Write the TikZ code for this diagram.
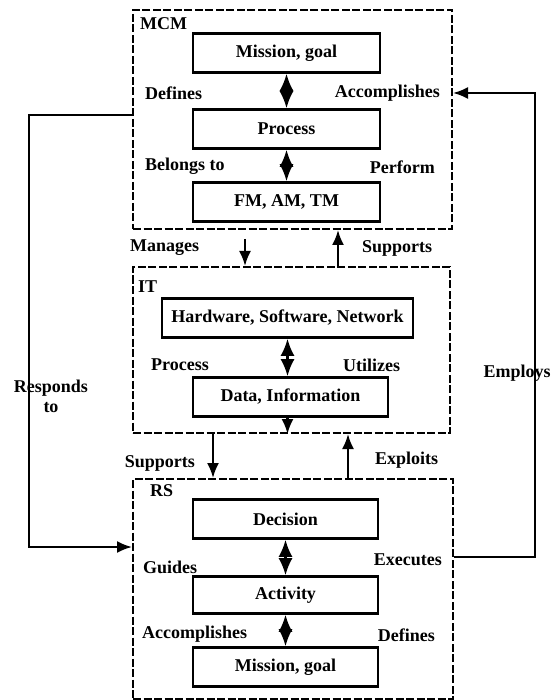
\documentclass[tikz,border=0pt]{standalone}
\usepackage{fontspec}
\setmainfont{Liberation Serif}
\usetikzlibrary{arrows.meta,positioning,calc}

\begin{document}
\begin{tikzpicture}[
  x=1pt, y=-1pt,
  font=\fontsize{18}{20}\selectfont\bfseries,
  group/.style={draw, dash pattern=on 8pt off 2.5pt, line width=2pt, inner sep=0pt},
  blk/.style={draw, line width=2.6pt, minimum width=187pt, minimum height=39pt, inner sep=0pt},
  lbl/.style={inner sep=0pt},
  arr/.style={-{Latex[length=15pt,width=12pt]}, line width=2.2pt},
  dbl/.style={{Latex[length=17pt,width=14pt]}-{Latex[length=17pt,width=14pt]}, line width=2.2pt}
]
\useasboundingbox (0,0) rectangle (555,700);

\node[group, minimum width=319pt, minimum height=219pt] (mcm) at (292.5,119.5) {};
\node[group, minimum width=317pt, minimum height=166pt] (it) at (291.5,350) {};
\node[group, minimum width=320pt, minimum height=220pt] (rs) at (293,589) {};

\node[lbl, anchor=west] (mcmname) at (140,24) {MCM};
\node[lbl, anchor=west] (itname) at (138,287) {IT};
\node[lbl, anchor=west] (rsname) at (150,491) {RS};

\node[blk] (mcmgoal) at (286.5,53) {Mission, goal};
\node[blk] (mcmproc) at (286.5,129) {Process};
\node[blk] (fmamtm) at (286.5,202) {FM, AM, TM};

\node[blk, minimum width=251pt] (hsn) at (287.5,318) {Hardware, Software, Network};
\node[blk, minimum width=195pt] (data) at (290.5,397) {Data, Information};

\node[blk, minimum width=185pt] (decision) at (285.5,519) {Decision};
\node[blk, minimum width=185pt, minimum height=37pt] (activity) at (285.5,595) {Activity};
\node[blk, minimum width=185pt] (rsgoal) at (285.5,667) {Mission, goal};

\draw[dbl] (mcmgoal) -- (mcmproc);
\draw[dbl] (mcmproc) -- (fmamtm);
\draw[dbl] (hsn.south) -- (hsn.south |- data.north);
\draw[arr] (hsn.south |- data.south) -- (hsn.south |- it.south);
\draw[dbl] (decision) -- (activity);
\draw[dbl] (activity) -- (rsgoal);

\node[lbl, anchor=west] (defines) at (145,93) {Defines};
\node[lbl, anchor=east] (accomp) at (440,93) {Accomplishes};
\node[lbl, anchor=west] (belongs) at (145,166) {Belongs to};
\node[lbl, anchor=east] (perform) at (435,167) {Perform};

\node[lbl, anchor=west] (process) at (151,365) {Process};
\node[lbl, anchor=west] (utilizes) at (343,365) {Utilizes};

\node[lbl, anchor=west] (guides) at (143,567) {Guides};
\node[lbl, anchor=east] (executes) at (442,560) {Executes};
\node[lbl, anchor=west] (rsaccomp) at (142,634) {Accomplishes};
\node[lbl, anchor=east] (rsdefines) at (435,635) {Defines};

\coordinate (man) at (245,239);
\coordinate (sup) at (338,0);
\draw[arr] (man) -- (man |- it.north);
\draw[arr] (sup |- it.north) -- (sup |- mcm.south);
\node[lbl, anchor=west] (manages) at (130,248) {Manages};
\node[lbl, anchor=west] (supports) at (362,248) {Supports};

\coordinate (sup2) at (213,0);
\coordinate (expl) at (348,0);
\draw[arr] (sup2 |- it.south) -- (sup2 |- rs.north);
\draw[arr] (expl |- rs.north) -- (expl |- it.south);
\node[lbl, anchor=east] (supports2) at (195,463) {Supports};
\node[lbl, anchor=west] (exploits) at (375,460) {Exploits};

\draw[arr] ([yshift=4.5pt]mcm.west) -| (29,330) |- ([yshift=42pt]rs.west);
\draw[arr] ([yshift=32pt]rs.east) -| (535,330) |- ([yshift=26.5pt]mcm.east);
\node[lbl, align=center] (responds) at (51,396) {Responds\\to};
\node[lbl] (employs) at (517,373) {Employs};

\end{tikzpicture}
\end{document}
